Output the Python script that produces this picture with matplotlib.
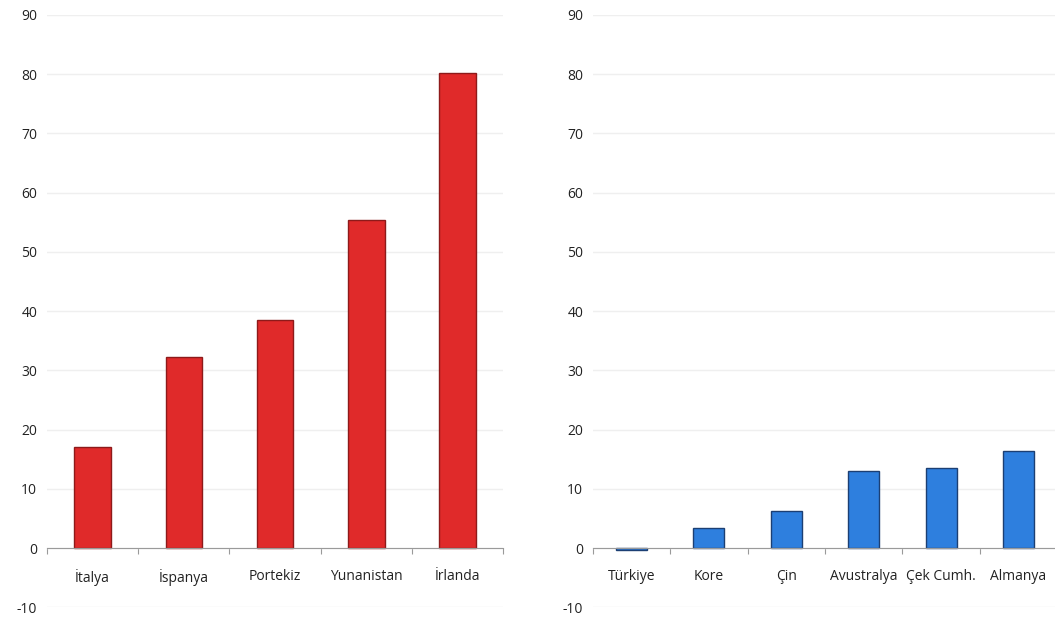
import matplotlib.pyplot as plt
import numpy as np

# Values
left_countries = ["İtalya", "İspanya", "Portekiz", "Yunanistan", "İrlanda"]
left_values = [17.0, 32.3, 38.5, 55.4, 80.2]

right_countries = ["Türkiye", "Kore", "Çin", "Avustralya", "Çek Cumh.", "Almanya"]
right_values = [-0.3, 3.4, 6.2, 13.0, 13.5, 16.4]

yticks = np.arange(-10, 91, 10)

plt.rcParams['font.family'] = ['Open Sans', 'DejaVu Sans']

fig = plt.figure(figsize=(10.55, 6.19), dpi=100)
ax1 = fig.add_axes([0.0445, 0.019, 0.4325, 0.957])
ax2 = fig.add_axes([0.562, 0.019, 0.44, 0.957])


def draw_panel(ax, names, values, color, edge):
    x = np.arange(len(names))
    ax.bar(x, values, width=0.4, color=color, edgecolor=edge, linewidth=1.0, zorder=3)
    ax.set_xlim(-0.5, len(names) - 0.5)
    ax.set_ylim(-10, 90)
    ax.set_yticks(yticks)
    ax.set_yticklabels([str(v) for v in yticks], fontsize=10, color='#222222')
    ax.tick_params(axis='y', length=0, pad=7)
    ax.grid(axis='y', color='#efefef', linewidth=1.0, zorder=0)
    for s in ['top', 'right', 'left']:
        ax.spines[s].set_visible(False)
    ax.spines['bottom'].set_position(('data', 0))
    ax.spines['bottom'].set_color('#9a9a9a')
    ax.spines['bottom'].set_zorder(4)
    # boundary ticks on the zero line, labels at the category centres
    ax.set_xticks(np.arange(-0.5, len(names), 1.0))
    ax.set_xticklabels([])
    ax.tick_params(axis='x', which='major', length=4, color='#9a9a9a', direction='out')
    ax.set_xticks(x, minor=True)
    ax.set_xticklabels(names, minor=True, fontsize=10, color='#222222')
    ax.tick_params(axis='x', which='minor', length=0, pad=15)


draw_panel(ax1, left_countries, left_values, '#e02a2a', '#8e1a1a')
draw_panel(ax2, right_countries, right_values, '#2e7fde', '#1c3f73')

plt.savefig("out.png", dpi=100)
